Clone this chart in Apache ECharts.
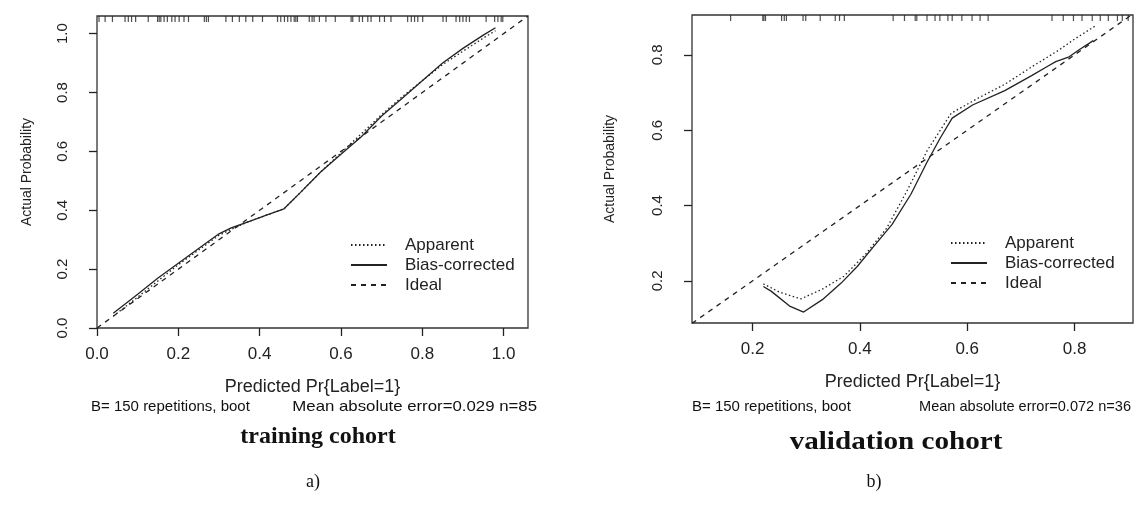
<!DOCTYPE html>
<html><head><meta charset="utf-8">
<script src="https://cdn.jsdelivr.net/npm/echarts@6/dist/echarts.min.js"></script>
<style>html,body{margin:0;padding:0;background:#fff}#c{width:1137px;height:505px}</style>
</head><body><div id="c"></div>
<script>
// ---- training cohort (a) ----
var trainX        = [0.04, 0.10, 0.15, 0.20, 0.25, 0.30, 0.33, 0.37, 0.42, 0.46, 0.50, 0.55, 0.60, 0.65, 0.70, 0.75, 0.80, 0.85, 0.90, 0.95, 0.98];
var trainApparent = [0.04, 0.105, 0.16, 0.215, 0.265, 0.315, 0.335, 0.36, 0.385, 0.405, 0.46, 0.53, 0.595, 0.66, 0.725, 0.785, 0.84, 0.895, 0.94, 0.985, 1.01];
var trainBias     = [0.05, 0.115, 0.17, 0.22, 0.27, 0.32, 0.34, 0.36, 0.385, 0.405, 0.46, 0.53, 0.59, 0.65, 0.72, 0.78, 0.84, 0.90, 0.95, 0.995, 1.02];
var trainIdeal    = [0, 1.06];
var trainRug = [0.005,0.020,0.038,0.069,0.077,0.085,0.095,0.126,0.149,0.153,0.157,0.165,0.173,0.184,0.192,0.202,0.214,0.225,0.264,0.269,0.274,0.317,0.333,0.350,0.366,0.383,0.407,0.444,0.452,0.461,0.469,0.477,0.485,0.489,0.493,0.522,0.529,0.534,0.547,0.563,0.586,0.625,0.629,0.645,0.653,0.666,0.674,0.695,0.707,0.723,0.764,0.773,0.781,0.789,0.801,0.851,0.859,0.883,0.892,0.900,0.908,0.916,0.957,0.978,0.986,0.994,0.998];
var trainTicks = [0, 0.2, 0.4, 0.6, 0.8, 1.0];

// ---- validation cohort (b) ----
var valAppX = [0.22, 0.25, 0.29, 0.33, 0.37, 0.41, 0.45, 0.49, 0.525, 0.57, 0.62, 0.67, 0.72, 0.77, 0.80, 0.84];
var valAppY = [0.192, 0.17, 0.152, 0.178, 0.212, 0.27, 0.34, 0.445, 0.545, 0.645, 0.685, 0.722, 0.768, 0.812, 0.842, 0.878];
var valBiasX = [0.22, 0.235, 0.27, 0.295, 0.33, 0.365, 0.395, 0.425, 0.46, 0.495, 0.525, 0.55, 0.572, 0.61, 0.67, 0.72, 0.75, 0.765, 0.79, 0.81, 0.835];
var valBiasY = [0.185, 0.172, 0.132, 0.117, 0.15, 0.194, 0.238, 0.29, 0.35, 0.43, 0.515, 0.58, 0.632, 0.667, 0.705, 0.745, 0.77, 0.782, 0.795, 0.815, 0.838];
var valIdeal = [0.087, 0.909];
var valRug = [0.159,0.219,0.221,0.224,0.254,0.259,0.263,0.294,0.299,0.326,0.354,0.362,0.371,0.462,0.483,0.503,0.506,0.525,0.540,0.549,0.564,0.572,0.590,0.609,0.624,0.639,0.758,0.779,0.798,0.814,0.833,0.848,0.863,0.880,0.889,0.900];
var valTicks = [0.2, 0.4, 0.6, 0.8];

var legendNames = ['Apparent', 'Bias-corrected', 'Ideal'];

var INK = '#222';
var SANS = 'Liberation Sans, Arial, sans-serif';
var SERIF = 'Liberation Serif, Times New Roman, serif';

function pairs(xs, ys) { return xs.map(function (x, i) { return [x, ys[i]]; }); }

var ext = {
  L: { x: [0, 1.06], y: [0, 1.06] },
  R: { x: [0.087, 0.909], y: [0.088, 0.906] }
};

function xAxisCfg(g, e, ticks) {
  return {
    type: 'value', gridIndex: g, min: e[0], max: e[1],
    name: 'Predicted Pr{Label=1}', nameLocation: 'middle', nameGap: 50,
    nameTextStyle: { fontSize: 18, fontFamily: SANS, color: INK },
    axisLine: { show: false },
    axisTick: { show: true, length: 8, customValues: ticks, lineStyle: { color: INK, width: 1.3 } },
    axisLabel: { customValues: ticks, margin: 18, fontSize: 17, fontFamily: SANS, color: INK,
                 formatter: function (v) { return v.toFixed(1); } },
    splitLine: { show: false }
  };
}
function yAxisCfg(g, e, ticks, gap) {
  return {
    type: 'value', gridIndex: g, min: e[0], max: e[1],
    name: 'Actual Probability', nameLocation: 'middle', nameGap: gap,
    nameTextStyle: { fontSize: 14, fontFamily: SANS, color: INK },
    axisLine: { show: false },
    axisTick: { show: true, length: 8, customValues: ticks, lineStyle: { color: INK, width: 1.3 } },
    axisLabel: { customValues: ticks, margin: 27, rotate: 90, fontSize: 15, fontFamily: SANS, color: INK,
                 formatter: function (v) { return v.toFixed(1); } },
    splitLine: { show: false }
  };
}
function lineSeries(name, g, data, type) {
  return {
    name: name, type: 'line', xAxisIndex: g, yAxisIndex: g, data: data,
    symbol: 'none', showSymbol: false, silent: true, animation: false,
    lineStyle: { color: INK, width: 1.3, type: type }, itemStyle: { color: INK }
  };
}
function rugSeries(g, xs, top) {
  return {
    type: 'scatter', xAxisIndex: g, yAxisIndex: g, silent: true, animation: false,
    data: xs.map(function (x) { return [x, top]; }),
    symbol: 'rect', symbolSize: [1.2, 6], symbolOffset: [0, 3],
    itemStyle: { color: INK }
  };
}
function legendCfg(left, top) {
  return {
    orient: 'vertical', left: left, top: top, padding: 0, itemGap: 0,
    itemWidth: 36, itemHeight: 2, selectedMode: false, data: legendNames,
    itemStyle: { opacity: 0 },
    textStyle: { fontSize: 17, lineHeight: 20, fontFamily: SANS, color: INK, padding: [0, 0, 0, 13] }
  };
}
function txt(x, y, s, size, family, align, weight, sx) {
  return { type: 'text', x: x, y: y, scaleX: sx || 1, silent: true,
    style: { text: s, fontSize: size, fontFamily: family, fontWeight: weight || 'normal',
             fill: '#111', align: align, verticalAlign: 'middle' } };
}

var DOT = [1.5, 2.5], DASH = [5, 5];

var option = {
  backgroundColor: '#fff',
  animation: false,
  grid: [
    { left: 97, top: 16, width: 431, height: 312, show: true, borderColor: '#333', borderWidth: 1.3, backgroundColor: 'transparent' },
    { left: 692, top: 15, width: 441, height: 308, show: true, borderColor: '#333', borderWidth: 1.3, backgroundColor: 'transparent' }
  ],
  xAxis: [ xAxisCfg(0, ext.L.x, trainTicks), xAxisCfg(1, ext.R.x, valTicks) ],
  yAxis: [ yAxisCfg(0, ext.L.y, trainTicks, 63), yAxisCfg(1, ext.R.y, valTicks, 75) ],
  legend: [ legendCfg(350, 235), legendCfg(950, 233) ],
  series: [
    lineSeries('Apparent', 0, pairs(trainX, trainApparent), DOT),
    lineSeries('Bias-corrected', 0, pairs(trainX, trainBias), 'solid'),
    lineSeries('Ideal', 0, pairs(trainIdeal, trainIdeal), DASH),
    rugSeries(0, trainRug, ext.L.y[1]),
    lineSeries('Apparent', 1, pairs(valAppX, valAppY), DOT),
    lineSeries('Bias-corrected', 1, pairs(valBiasX, valBiasY), 'solid'),
    lineSeries('Ideal', 1, pairs(valIdeal, valIdeal), DASH),
    rugSeries(1, valRug, ext.R.y[1])
  ],
  graphic: [
    txt(91, 407, 'B= 150 repetitions, boot', 15, SANS, 'left'),
    txt(537, 407, 'Mean absolute error=0.029 n=85', 15, SANS, 'right', 'normal', 1.12),
    txt(318, 437, 'training cohort', 24, SERIF, 'center', 'bold'),
    txt(313, 482, 'a)', 18, SERIF, 'center'),
    txt(692, 407, 'B= 150 repetitions, boot', 15, SANS, 'left'),
    txt(1131, 407, 'Mean absolute error=0.072 n=36', 15, SANS, 'right', 'normal', 0.97),
    txt(896, 442, 'validation cohort', 26, SERIF, 'center', 'bold', 1.12),
    txt(874, 482, 'b)', 18, SERIF, 'center')
  ]
};
var chart = echarts.init(document.getElementById('c'), null, { renderer: 'canvas' });
chart.setOption(option);
</script></body></html>
